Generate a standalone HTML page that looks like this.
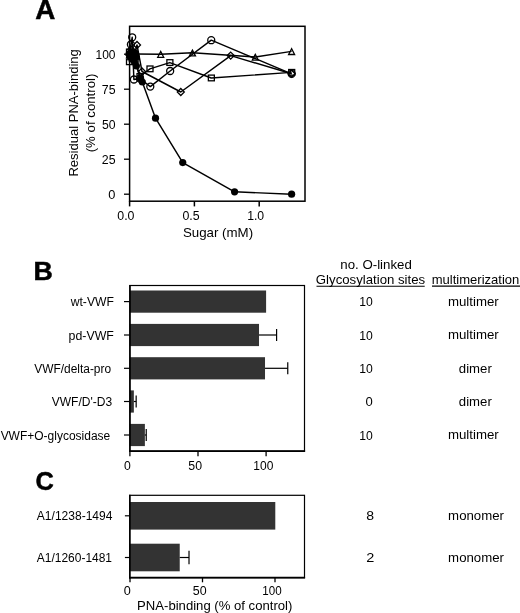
<!DOCTYPE html>
<html><head><meta charset="utf-8"><title>Figure</title>
<style>
html,body{margin:0;padding:0;background:#fff;}
body{width:520px;height:613px;overflow:hidden;font-family:"Liberation Sans",sans-serif;}
svg{display:block;will-change:transform;filter:grayscale(1)}
svg text{font-family:"Liberation Sans",sans-serif;fill:#000}
</style></head><body>
<svg width="520" height="613" viewBox="0 0 520 613">
<rect width="520" height="613" fill="#fff"/>
<text x="35.31" y="18.70" font-size="27" textLength="20.05" lengthAdjust="spacingAndGlyphs" font-weight="bold" stroke="#000" stroke-width="0.5">A</text>
<polyline points="129.60,54.50 130.90,52.50 132.60,56.00 136.00,54.00 160.70,54.20 192.46,52.80 255.31,57.00 291.60,51.40" fill="none" stroke="#000" stroke-width="1.45" stroke-linejoin="round"/>
<polyline points="129.40,52.00 129.40,61.80 130.80,57.00 132.20,53.00 135.00,60.00 139.90,76.50 149.90,68.90 169.78,62.60 211.25,78.00 291.60,72.40" fill="none" stroke="#000" stroke-width="1.45" stroke-linejoin="round"/>
<polyline points="129.60,55.00 131.20,49.50 133.20,58.00 137.00,45.00 142.00,71.50 180.79,92.00 230.69,55.60 291.60,73.80" fill="none" stroke="#000" stroke-width="1.45" stroke-linejoin="round"/>
<polyline points="129.60,54.20 130.90,44.50 132.20,37.30 133.90,79.50 139.90,78.50 150.30,86.60 170.16,71.00 211.25,40.20 291.60,73.80" fill="none" stroke="#000" stroke-width="1.45" stroke-linejoin="round"/>
<polyline points="129.60,54.20 134.80,52.60 131.00,56.50 136.20,57.00 132.80,59.50 134.40,61.80 136.40,66.00 140.60,78.60 142.30,82.00 155.52,118.18 182.74,162.56 234.58,191.82 291.60,194.20" fill="none" stroke="#000" stroke-width="1.45" stroke-linejoin="round"/>
<polygon points="129.60,51.80 126.60,57.60 132.60,57.60" fill="none" stroke="#000" stroke-width="1.3"/>
<polygon points="130.90,49.80 127.90,55.60 133.90,55.60" fill="none" stroke="#000" stroke-width="1.3"/>
<polygon points="132.60,53.30 129.60,59.10 135.60,59.10" fill="none" stroke="#000" stroke-width="1.3"/>
<polygon points="136.00,51.30 133.00,57.10 139.00,57.10" fill="none" stroke="#000" stroke-width="1.3"/>
<polygon points="160.70,51.50 157.70,57.30 163.70,57.30" fill="none" stroke="#000" stroke-width="1.3"/>
<polygon points="192.46,50.10 189.46,55.90 195.46,55.90" fill="none" stroke="#000" stroke-width="1.3"/>
<polygon points="255.31,54.30 252.31,60.10 258.31,60.10" fill="none" stroke="#000" stroke-width="1.3"/>
<polygon points="291.60,48.70 288.60,54.50 294.60,54.50" fill="none" stroke="#000" stroke-width="1.3"/>
<rect x="126.50" y="49.10" width="6.0" height="5.7" fill="none" stroke="#000" stroke-width="1.3"/>
<rect x="126.50" y="58.90" width="6.0" height="5.7" fill="none" stroke="#000" stroke-width="1.3"/>
<rect x="127.90" y="54.10" width="6.0" height="5.7" fill="none" stroke="#000" stroke-width="1.3"/>
<rect x="129.30" y="50.10" width="6.0" height="5.7" fill="none" stroke="#000" stroke-width="1.3"/>
<rect x="132.10" y="57.10" width="6.0" height="5.7" fill="none" stroke="#000" stroke-width="1.3"/>
<rect x="137.00" y="73.60" width="6.0" height="5.7" fill="none" stroke="#000" stroke-width="1.3"/>
<rect x="147.00" y="66.00" width="6.0" height="5.7" fill="none" stroke="#000" stroke-width="1.3"/>
<rect x="166.88" y="59.70" width="6.0" height="5.7" fill="none" stroke="#000" stroke-width="1.3"/>
<rect x="208.35" y="75.10" width="6.0" height="5.7" fill="none" stroke="#000" stroke-width="1.3"/>
<rect x="288.70" y="69.50" width="6.0" height="5.7" fill="none" stroke="#000" stroke-width="1.3"/>
<polygon points="129.60,51.50 133.10,55.00 129.60,58.50 126.10,55.00" fill="none" stroke="#000" stroke-width="1.3"/>
<polygon points="131.20,46.00 134.70,49.50 131.20,53.00 127.70,49.50" fill="none" stroke="#000" stroke-width="1.3"/>
<polygon points="133.20,54.50 136.70,58.00 133.20,61.50 129.70,58.00" fill="none" stroke="#000" stroke-width="1.3"/>
<polygon points="137.00,41.50 140.50,45.00 137.00,48.50 133.50,45.00" fill="none" stroke="#000" stroke-width="1.3"/>
<polygon points="142.00,68.00 145.50,71.50 142.00,75.00 138.50,71.50" fill="none" stroke="#000" stroke-width="1.3"/>
<polygon points="180.79,88.50 184.29,92.00 180.79,95.50 177.29,92.00" fill="none" stroke="#000" stroke-width="1.3"/>
<polygon points="230.69,52.10 234.19,55.60 230.69,59.10 227.19,55.60" fill="none" stroke="#000" stroke-width="1.3"/>
<polygon points="291.60,70.30 295.10,73.80 291.60,77.30 288.10,73.80" fill="none" stroke="#000" stroke-width="1.3"/>
<circle cx="129.60" cy="54.20" r="3.5" fill="none" stroke="#000" stroke-width="1.3"/>
<circle cx="130.90" cy="44.50" r="3.5" fill="none" stroke="#000" stroke-width="1.3"/>
<circle cx="132.20" cy="37.30" r="3.5" fill="none" stroke="#000" stroke-width="1.3"/>
<circle cx="133.90" cy="79.50" r="3.5" fill="none" stroke="#000" stroke-width="1.3"/>
<circle cx="139.90" cy="78.50" r="3.5" fill="none" stroke="#000" stroke-width="1.3"/>
<circle cx="150.30" cy="86.60" r="3.5" fill="none" stroke="#000" stroke-width="1.3"/>
<circle cx="170.16" cy="71.00" r="3.5" fill="none" stroke="#000" stroke-width="1.3"/>
<circle cx="211.25" cy="40.20" r="3.5" fill="none" stroke="#000" stroke-width="1.3"/>
<circle cx="291.60" cy="73.80" r="3.5" fill="none" stroke="#000" stroke-width="1.3"/>
<circle cx="129.60" cy="54.20" r="3.6" fill="#000"/>
<circle cx="134.80" cy="52.60" r="3.6" fill="#000"/>
<circle cx="131.00" cy="56.50" r="3.6" fill="#000"/>
<circle cx="136.20" cy="57.00" r="3.6" fill="#000"/>
<circle cx="132.80" cy="59.50" r="3.6" fill="#000"/>
<circle cx="134.40" cy="61.80" r="3.6" fill="#000"/>
<circle cx="136.40" cy="66.00" r="3.6" fill="#000"/>
<circle cx="140.60" cy="78.60" r="3.6" fill="#000"/>
<circle cx="142.30" cy="82.00" r="3.6" fill="#000"/>
<circle cx="155.52" cy="118.18" r="3.6" fill="#000"/>
<circle cx="182.74" cy="162.56" r="3.6" fill="#000"/>
<circle cx="234.58" cy="191.82" r="3.6" fill="#000"/>
<circle cx="291.60" cy="194.20" r="3.6" fill="#000"/>
<rect x="129.60" y="26.30" width="175.40" height="174.90" fill="none" stroke="#000" stroke-width="1.5"/>
<line x1="124.00" y1="194.20" x2="129.60" y2="194.20" stroke="#000" stroke-width="1.3"/>
<text x="108.39" y="198.60" font-size="12.3" textLength="7.14" lengthAdjust="spacingAndGlyphs">0</text>
<line x1="124.00" y1="159.20" x2="129.60" y2="159.20" stroke="#000" stroke-width="1.3"/>
<text x="101.78" y="163.60" font-size="12.3" textLength="13.74" lengthAdjust="spacingAndGlyphs">25</text>
<line x1="124.00" y1="124.20" x2="129.60" y2="124.20" stroke="#000" stroke-width="1.3"/>
<text x="101.91" y="128.60" font-size="12.3" textLength="13.61" lengthAdjust="spacingAndGlyphs">50</text>
<line x1="124.00" y1="89.20" x2="129.60" y2="89.20" stroke="#000" stroke-width="1.3"/>
<text x="101.78" y="93.60" font-size="12.3" textLength="13.74" lengthAdjust="spacingAndGlyphs">75</text>
<line x1="124.00" y1="54.20" x2="129.60" y2="54.20" stroke="#000" stroke-width="1.3"/>
<text x="95.50" y="58.60" font-size="12.3" textLength="20.02" lengthAdjust="spacingAndGlyphs">100</text>
<line x1="129.60" y1="201.20" x2="129.60" y2="206.40" stroke="#000" stroke-width="1.5"/>
<text x="117.31" y="220.20" font-size="12.3" textLength="17.19" lengthAdjust="spacingAndGlyphs">0.0</text>
<line x1="194.40" y1="201.20" x2="194.40" y2="206.40" stroke="#000" stroke-width="1.5"/>
<text x="182.41" y="220.20" font-size="12.3" textLength="17.19" lengthAdjust="spacingAndGlyphs">0.5</text>
<line x1="259.20" y1="201.20" x2="259.20" y2="206.40" stroke="#000" stroke-width="1.5"/>
<text x="247.18" y="220.20" font-size="12.3" textLength="17.01" lengthAdjust="spacingAndGlyphs">1.0</text>
<text x="182.90" y="237.20" font-size="13" textLength="70.25" lengthAdjust="spacingAndGlyphs">Sugar (mM)</text>
<text transform="translate(78.40,176.54) rotate(-90)" x="0" y="0" font-size="13" textLength="127.33" lengthAdjust="spacingAndGlyphs">Residual PNA-binding</text>
<text transform="translate(94.60,152.29) rotate(-90)" x="0" y="0" font-size="13" textLength="78.71" lengthAdjust="spacingAndGlyphs">(% of control)</text>
<text x="33.46" y="280.00" font-size="26" textLength="19.30" lengthAdjust="spacingAndGlyphs" font-weight="bold" stroke="#000" stroke-width="0.5">B</text>
<rect x="129.90" y="290.50" width="136.20" height="22.2" fill="#333333"/>
<line x1="124.00" y1="301.60" x2="129.90" y2="301.60" stroke="#000" stroke-width="1.2"/>
<text x="70.70" y="306.30" font-size="12" textLength="43.18" lengthAdjust="spacingAndGlyphs">wt-VWF</text>
<rect x="129.90" y="323.90" width="129.12" height="22.2" fill="#333333"/>
<line x1="259.02" y1="335.00" x2="276.59" y2="335.00" stroke="#000" stroke-width="1.2"/>
<line x1="276.59" y1="329.00" x2="276.59" y2="341.00" stroke="#000" stroke-width="1.2"/>
<line x1="124.00" y1="335.00" x2="129.90" y2="335.00" stroke="#000" stroke-width="1.2"/>
<text x="68.60" y="339.70" font-size="12" textLength="45.32" lengthAdjust="spacingAndGlyphs">pd-VWF</text>
<rect x="129.90" y="357.20" width="135.11" height="22.2" fill="#333333"/>
<line x1="265.01" y1="368.30" x2="287.76" y2="368.30" stroke="#000" stroke-width="1.2"/>
<line x1="287.76" y1="362.30" x2="287.76" y2="374.30" stroke="#000" stroke-width="1.2"/>
<line x1="124.00" y1="368.30" x2="129.90" y2="368.30" stroke="#000" stroke-width="1.2"/>
<text x="34.24" y="373.00" font-size="12" textLength="76.85" lengthAdjust="spacingAndGlyphs">VWF/delta-pro</text>
<rect x="129.90" y="390.40" width="3.95" height="22.2" fill="#333333"/>
<line x1="133.85" y1="401.50" x2="136.17" y2="401.50" stroke="#000" stroke-width="1.2"/>
<line x1="136.17" y1="395.50" x2="136.17" y2="407.50" stroke="#000" stroke-width="1.2"/>
<line x1="124.00" y1="401.50" x2="129.90" y2="401.50" stroke="#000" stroke-width="1.2"/>
<text x="51.74" y="406.20" font-size="12" textLength="60.39" lengthAdjust="spacingAndGlyphs">VWF/D'-D3</text>
<rect x="129.90" y="423.90" width="14.98" height="22.2" fill="#333333"/>
<line x1="144.88" y1="435.00" x2="146.24" y2="435.00" stroke="#000" stroke-width="1.2"/>
<line x1="146.24" y1="429.00" x2="146.24" y2="441.00" stroke="#000" stroke-width="1.2"/>
<line x1="124.00" y1="435.00" x2="129.90" y2="435.00" stroke="#000" stroke-width="1.2"/>
<text x="0.64" y="439.70" font-size="12" textLength="109.62" lengthAdjust="spacingAndGlyphs">VWF+O-glycosidase</text>
<rect x="129.90" y="285.50" width="174.60" height="165.70" fill="none" stroke="#000" stroke-width="1.2"/>
<line x1="129.10" y1="451.20" x2="305.10" y2="451.20" stroke="#000" stroke-width="1.7"/>
<line x1="129.90" y1="284.90" x2="129.90" y2="452.00" stroke="#000" stroke-width="1.5"/>
<line x1="129.90" y1="451.20" x2="129.90" y2="456.20" stroke="#000" stroke-width="1.3"/>
<text x="124.11" y="470.20" font-size="12.3" textLength="6.79" lengthAdjust="spacingAndGlyphs">0</text>
<line x1="198.00" y1="451.20" x2="198.00" y2="456.20" stroke="#000" stroke-width="1.3"/>
<text x="188.31" y="470.20" font-size="12.3" textLength="13.72" lengthAdjust="spacingAndGlyphs">50</text>
<line x1="266.10" y1="451.20" x2="266.10" y2="456.20" stroke="#000" stroke-width="1.3"/>
<text x="253.30" y="470.20" font-size="12.3" textLength="20.02" lengthAdjust="spacingAndGlyphs">100</text>
<text x="340.34" y="268.90" font-size="13.2" textLength="71.45" lengthAdjust="spacingAndGlyphs">no. O-linked</text>
<text x="315.84" y="283.50" font-size="13.2" textLength="109.33" lengthAdjust="spacingAndGlyphs">Glycosylation sites</text>
<line x1="316.50" y1="286.30" x2="424.70" y2="286.30" stroke="#000" stroke-width="1.1"/>
<text x="431.65" y="283.50" font-size="13.2" textLength="87.69" lengthAdjust="spacingAndGlyphs">multimerization</text>
<line x1="432.00" y1="286.10" x2="520.00" y2="286.10" stroke="#000" stroke-width="1.1"/>
<text x="359.29" y="306.30" font-size="13" textLength="13.53" lengthAdjust="spacingAndGlyphs">10</text>
<text x="447.94" y="305.90" font-size="13.2" textLength="50.81" lengthAdjust="spacingAndGlyphs">multimer</text>
<text x="359.29" y="339.70" font-size="13" textLength="13.53" lengthAdjust="spacingAndGlyphs">10</text>
<text x="447.94" y="339.30" font-size="13.2" textLength="50.81" lengthAdjust="spacingAndGlyphs">multimer</text>
<text x="359.29" y="373.00" font-size="13" textLength="13.53" lengthAdjust="spacingAndGlyphs">10</text>
<text x="458.87" y="372.60" font-size="13.2" textLength="32.93" lengthAdjust="spacingAndGlyphs">dimer</text>
<text x="365.48" y="406.20" font-size="13" textLength="7.26" lengthAdjust="spacingAndGlyphs">0</text>
<text x="458.87" y="405.80" font-size="13.2" textLength="32.93" lengthAdjust="spacingAndGlyphs">dimer</text>
<text x="359.29" y="439.70" font-size="13" textLength="13.53" lengthAdjust="spacingAndGlyphs">10</text>
<text x="447.94" y="439.30" font-size="13.2" textLength="50.81" lengthAdjust="spacingAndGlyphs">multimer</text>
<text x="35.39" y="490.40" font-size="26" textLength="18.30" lengthAdjust="spacingAndGlyphs" font-weight="bold" stroke="#000" stroke-width="0.5">C</text>
<rect x="129.80" y="502.00" width="145.49" height="27.6" fill="#333333"/>
<line x1="124.90" y1="515.80" x2="129.80" y2="515.80" stroke="#000" stroke-width="1.2"/>
<text x="36.84" y="520.40" font-size="12" textLength="75.56" lengthAdjust="spacingAndGlyphs">A1/1238-1494</text>
<text x="366.37" y="520.20" font-size="13.2" textLength="7.81" lengthAdjust="spacingAndGlyphs">8</text>
<text x="448.14" y="520.20" font-size="13.2" textLength="55.81" lengthAdjust="spacingAndGlyphs">monomer</text>
<rect x="129.80" y="543.70" width="49.93" height="27.6" fill="#333333"/>
<line x1="179.73" y1="557.50" x2="189.01" y2="557.50" stroke="#000" stroke-width="1.2"/>
<line x1="189.01" y1="550.80" x2="189.01" y2="564.20" stroke="#000" stroke-width="1.2"/>
<line x1="124.90" y1="557.50" x2="129.80" y2="557.50" stroke="#000" stroke-width="1.2"/>
<text x="36.84" y="562.10" font-size="12" textLength="75.20" lengthAdjust="spacingAndGlyphs">A1/1260-1481</text>
<text x="366.27" y="561.90" font-size="13.2" textLength="8.07" lengthAdjust="spacingAndGlyphs">2</text>
<text x="448.14" y="561.90" font-size="13.2" textLength="55.81" lengthAdjust="spacingAndGlyphs">monomer</text>
<rect x="129.80" y="495.30" width="174.70" height="82.40" fill="none" stroke="#000" stroke-width="1.2"/>
<line x1="129.00" y1="577.70" x2="305.10" y2="577.70" stroke="#000" stroke-width="1.7"/>
<line x1="129.80" y1="494.70" x2="129.80" y2="578.50" stroke="#000" stroke-width="1.5"/>
<line x1="130.00" y1="577.70" x2="130.00" y2="582.30" stroke="#000" stroke-width="1.3"/>
<text x="123.69" y="595.30" font-size="12.3" textLength="7.03" lengthAdjust="spacingAndGlyphs">0</text>
<line x1="202.50" y1="577.70" x2="202.50" y2="582.30" stroke="#000" stroke-width="1.3"/>
<text x="192.80" y="595.30" font-size="12.3" textLength="13.82" lengthAdjust="spacingAndGlyphs">50</text>
<line x1="275.00" y1="577.70" x2="275.00" y2="582.30" stroke="#000" stroke-width="1.3"/>
<text x="262.33" y="595.30" font-size="12.3" textLength="19.38" lengthAdjust="spacingAndGlyphs">100</text>
<text x="137.05" y="609.60" font-size="13" textLength="155.29" lengthAdjust="spacingAndGlyphs">PNA-binding (% of control)</text>
</svg>
</body></html>
